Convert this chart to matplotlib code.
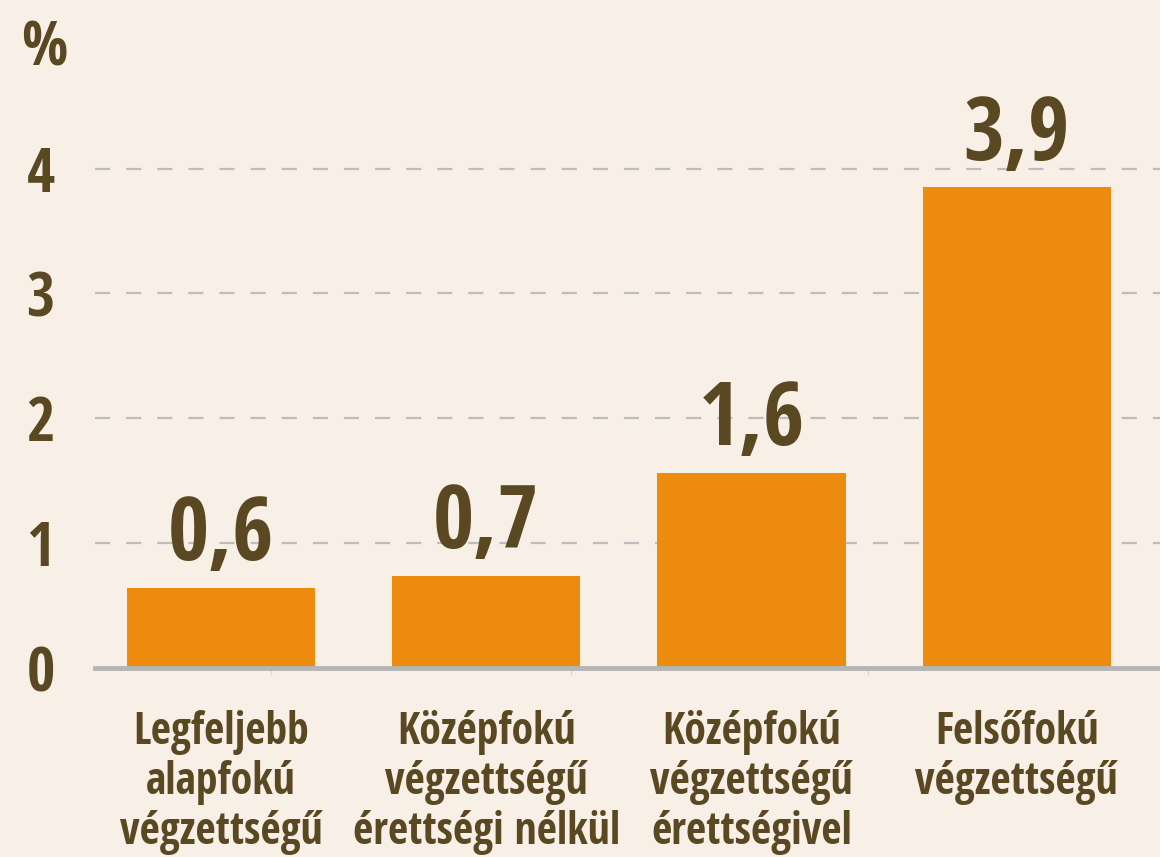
import matplotlib.pyplot as plt
import numpy as np

categories = [
    "Legfeljebb\nalapfokú\nvégzettségű",
    "Középfokú\nvégzettségű\nérettségi nélkül",
    "Középfokú\nvégzettségű\nérettségivel",
    "Felsőfokú\nvégzettségű",
]
values = [0.64, 0.74, 1.56, 3.85]
value_labels = ["0,6", "0,7", "1,6", "3,9"]
yticks = [0, 1, 2, 3, 4]

BG = "#F8F0E6"
BAR = "#EC8B0E"
TXT = "#5A4822"
GRID = "#BDBDBD"


def main():
    plt.rcParams['font.family'] = ['Open Sans Condensed', 'PT Sans Narrow', 'DejaVu Sans']
    plt.rcParams['font.weight'] = 'bold'

    fig = plt.figure(figsize=(11.6, 8.57), dpi=100)
    fig.patch.set_facecolor(BG)
    ax = fig.add_axes([95 / 1160, 189 / 857, 1065 / 1160, 568 / 857])
    ax.set_facecolor(BG)

    x = np.arange(len(categories))
    bars = ax.bar(x, values, width=0.71, color=BAR, zorder=3)

    for b, lab in zip(bars, value_labels):
        ax.annotate(lab, (b.get_x() + b.get_width() / 2, b.get_height()),
                    xytext=(0, 20), textcoords='offset points',
                    ha='center', va='baseline', fontsize=64,
                    fontweight='bold', color=TXT, zorder=5)

    ax.set_xlim(-0.475, 3.54)
    ax.set_ylim(0, 4.55)

    ax.set_yticks(yticks)
    ax.set_yticklabels([str(t) for t in yticks])
    ax.tick_params(axis='y', length=0, pad=29, labelsize=44, labelcolor=TXT)
    for t in yticks[1:]:
        ax.axhline(t, color=GRID, lw=1.6, linestyle=(0, (6.8, 7.2)), zorder=1)

    ax.set_xticks(x)
    ax.set_xticklabels(categories, linespacing=1.15)
    ax.tick_params(axis='x', which='major', length=0, pad=30,
                   labelsize=31.5, labelcolor=TXT)
    ax.set_xticks([0.19, 1.32, 2.44], minor=True)
    ax.tick_params(axis='x', which='minor', length=5, width=1, color='#D8D8D8')

    for s in ['top', 'right', 'left']:
        ax.spines[s].set_visible(False)
    ax.spines['bottom'].set_color('#B5B5B5')
    ax.spines['bottom'].set_linewidth(3.5)
    ax.spines['bottom'].set_zorder(4)

    fig.text(44 / 1160, 1 - 50 / 857, "%", ha='center', va='center',
             fontsize=44, fontweight='bold', color=TXT)

    fig.savefig("out.png", dpi=100, facecolor=BG)


if __name__ == "__main__":
    main()
